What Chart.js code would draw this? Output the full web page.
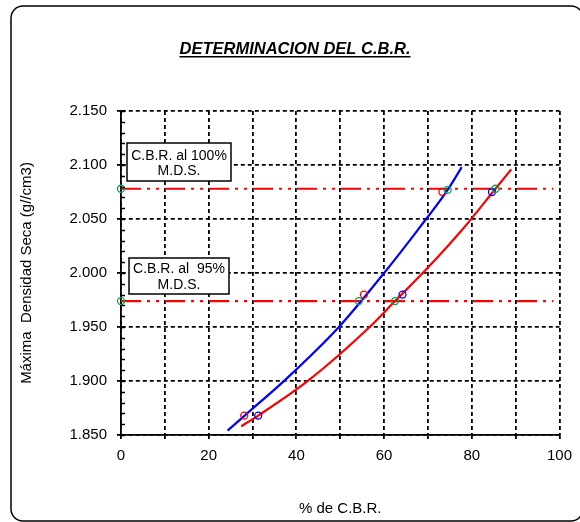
<!DOCTYPE html>
<html>
<head>
<meta charset="utf-8">
<title>Determinacion del C.B.R.</title>
<script src="https://cdn.jsdelivr.net/npm/chart.js@4.4.0/dist/chart.umd.min.js"></script>
<style>
    html, body { margin: 0; padding: 0; background: #ffffff; }
    #wrap { position: relative; width: 580px; height: 522px; }
</style>
</head>
<body>
<div id="wrap"><canvas id="cbrChart" width="580" height="522"></canvas></div>
<script>
// ---- data ----
const xLabelTicks = [0, 20, 40, 60, 80, 100];
const yMin = 1.850;
const yMax = 2.150;

// curve drawn in blue (passes through the red markers)
const blueCurveX = [24.3, 28.2, 37.7, 49.7, 60.0, 67.7, 74.5, 77.7];
const blueCurveY = [1.854, 1.868, 1.902, 1.950, 2.000, 2.040, 2.077, 2.098];

// curve drawn in red (passes through the blue markers)
const redCurveX = [27.4, 31.3, 42.9, 56.7, 62.5, 70.0, 77.8, 85.4, 89.0];
const redCurveY = [1.858, 1.868, 1.901, 1.950, 1.974, 2.005, 2.040, 2.078, 2.096];

const redPointsX = [28.1, 55.4, 73.3];
const redPointsY = [1.868, 1.980, 2.075];

const bluePointsX = [31.3, 64.2, 84.6];
const bluePointsY = [1.868, 1.980, 2.075];

const greenPointsX = [0, 0, 54.2, 62.5, 74.5, 85.4];
const greenPointsY = [2.078, 1.974, 1.974, 1.974, 2.077, 2.078];

const mds100X = [0, 98.6];
const mds100Y = [2.078, 2.078];
const mds95X = [0, 98.6];
const mds95Y = [1.974, 1.974];

const titleText = 'DETERMINACION DEL C.B.R.';
const xTitle = '% de C.B.R.';
const yTitle = 'Máxima  Densidad Seca (g//cm3)';
const boxTexts = [['C.B.R. al 100%', 'M.D.S.'], ['C.B.R. al  95%', 'M.D.S.']];

const FONT = '"Liberation Sans", Arial, sans-serif';

function pts(xs, ys) {
    return xs.map((x, i) => ({ x: x, y: ys[i] }));
}

// frame, title, minor ticks and the two text boxes
const decorPlugin = {
    id: 'decor',
    beforeDraw(chart) {
        const ctx = chart.ctx;
        ctx.save();
        ctx.fillStyle = '#ffffff';
        ctx.fillRect(0, 0, chart.width, chart.height);
        ctx.strokeStyle = '#000000';
        ctx.lineWidth = 1.5;
        ctx.beginPath();
        ctx.roundRect(11, 6, 572, 515, 12);
        ctx.stroke();

        ctx.font = 'italic bold 16.5px ' + FONT;
        ctx.fillStyle = '#000000';
        ctx.textAlign = 'center';
        ctx.textBaseline = 'alphabetic';
        ctx.fillText(titleText, 295, 54);
        const w = ctx.measureText(titleText).width;
        ctx.fillRect(295 - w / 2, 56, w, 1.5);
        ctx.restore();
    },
    afterDatasetsDraw(chart) {
        const ctx = chart.ctx;
        const ys = chart.scales.y;
        const left = chart.chartArea.left;
        ctx.save();
        ctx.strokeStyle = '#000000';
        ctx.lineWidth = 1.5;
        for (let v = yMin; v <= yMax + 1e-9; v += 0.01) {
            const py = Math.round(ys.getPixelForValue(v)) + 0.5;
            ctx.beginPath();
            ctx.moveTo(left, py);
            ctx.lineTo(left + 4, py);
            ctx.stroke();
        }

        const boxes = [
            { x: 127, y: 143, w: 104, h: 38, l1: 156, l2: 171 },
            { x: 129, y: 258, w: 100, h: 36, l1: 269, l2: 285 }
        ];
        ctx.font = '14px ' + FONT;
        ctx.textAlign = 'center';
        ctx.textBaseline = 'middle';
        boxes.forEach((b, i) => {
            ctx.fillStyle = '#ffffff';
            ctx.fillRect(b.x, b.y, b.w, b.h);
            ctx.lineWidth = 1.5;
            ctx.strokeRect(b.x, b.y, b.w, b.h);
            ctx.fillStyle = '#000000';
            ctx.fillText(boxTexts[i][0], b.x + b.w / 2, b.l1);
            ctx.fillText(boxTexts[i][1], b.x + b.w / 2, b.l2);
        });
        ctx.restore();
    }
};

function initChart() {
    const ctx = document.getElementById('cbrChart').getContext('2d');
    const dashDot = [20, 6, 3, 6, 3, 6];
    const green = '#00a550';

    new Chart(ctx, {
        type: 'scatter',
        data: {
            datasets: [
                {
                    label: 'MDS',
                    data: pts(greenPointsX, greenPointsY),
                    showLine: false,
                    clip: false,
                    pointRadius: 3.5,
                    pointBorderWidth: 1.3,
                    pointBorderColor: green,
                    pointBackgroundColor: 'rgba(0,0,0,0)',
                    order: 0
                },
                {
                    label: 'puntos rojos',
                    data: pts(redPointsX, redPointsY),
                    showLine: false,
                    pointRadius: 3.5,
                    pointBorderWidth: 1.3,
                    pointBorderColor: '#ff0000',
                    pointBackgroundColor: 'rgba(0,0,0,0)',
                    order: 1
                },
                {
                    label: 'puntos azules',
                    data: pts(bluePointsX, bluePointsY),
                    showLine: false,
                    pointRadius: 3.5,
                    pointBorderWidth: 1.3,
                    pointBorderColor: '#0000ff',
                    pointBackgroundColor: 'rgba(0,0,0,0)',
                    order: 1
                },
                {
                    label: 'curva azul',
                    data: pts(blueCurveX, blueCurveY),
                    showLine: true,
                    borderColor: '#0000ff',
                    borderWidth: 2.2,
                    pointRadius: 0,
                    cubicInterpolationMode: 'monotone',
                    order: 2
                },
                {
                    label: 'curva roja',
                    data: pts(redCurveX, redCurveY),
                    showLine: true,
                    borderColor: '#ff0000',
                    borderWidth: 2.2,
                    pointRadius: 0,
                    cubicInterpolationMode: 'monotone',
                    order: 2
                },
                {
                    label: '100% MDS',
                    data: pts(mds100X, mds100Y),
                    showLine: true,
                    borderColor: '#ff0000',
                    borderWidth: 2.2,
                    borderDash: dashDot,
                    pointRadius: 0,
                    order: 3
                },
                {
                    label: '95% MDS',
                    data: pts(mds95X, mds95Y),
                    showLine: true,
                    borderColor: '#ff0000',
                    borderWidth: 2.2,
                    borderDash: dashDot,
                    pointRadius: 0,
                    order: 3
                }
            ]
        },
        options: {
            responsive: false,
            animation: false,
            layout: {
                padding: { left: 12, right: 15, top: 111, bottom: 1 }
            },
            plugins: {
                legend: { display: false },
                tooltip: { enabled: false },
                title: { display: false }
            },
            scales: {
                x: {
                    type: 'linear',
                    min: 0,
                    max: 100,
                    afterFit: (scale) => { scale.height = 86; },
                    border: { display: true, color: '#000000', width: 1.8, dash: [4, 3] },
                    grid: {
                        color: '#000000',
                        lineWidth: 1.8,
                        tickLength: 4,
                        tickColor: '#000000'
                    },
                    ticks: {
                        stepSize: 10,
                        padding: 8,
                        maxRotation: 0,
                        autoSkip: false,
                        color: '#000000',
                        font: { family: FONT, size: 15 },
                        callback: function(value) {
                            return xLabelTicks.includes(value) ? String(value) : '';
                        }
                    },
                    title: {
                        display: true,
                        text: xTitle,
                        color: '#000000',
                        font: { family: FONT, size: 15 },
                        padding: { top: 4, bottom: 3 }
                    }
                },
                y: {
                    type: 'linear',
                    min: yMin,
                    max: yMax,
                    afterFit: (scale) => { scale.width = 109; },
                    border: { display: true, color: '#000000', width: 1.8, dash: [4, 3] },
                    grid: {
                        color: '#000000',
                        lineWidth: 1.8,
                        tickLength: 4,
                        tickColor: '#000000'
                    },
                    ticks: {
                        stepSize: 0.05,
                        padding: 10,
                        color: '#000000',
                        font: { family: FONT, size: 15 },
                        callback: function(value) {
                            return value.toFixed(3);
                        }
                    },
                    title: {
                        display: true,
                        text: yTitle,
                        color: '#000000',
                        font: { family: FONT, size: 15 },
                        padding: { top: 6, bottom: 4 }
                    }
                }
            }
        },
        plugins: [decorPlugin]
    });
}

document.addEventListener('DOMContentLoaded', () => {
    initChart();
});
</script>
</body>
</html>
